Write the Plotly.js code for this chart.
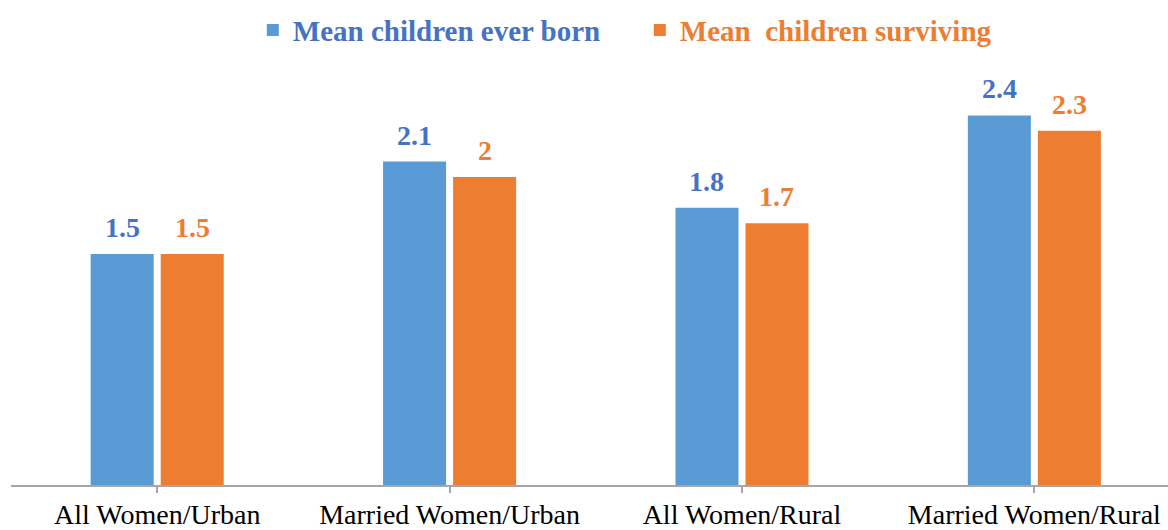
<!DOCTYPE html>
<html>
<head>
<meta charset="utf-8">
<script src="https://cdn.plot.ly/plotly-3.0.1.min.js"></script>
<style>html,body{margin:0;padding:0;background:#fff;}#chart{width:1168px;height:530px;}</style>
</head>
<body>
<div id="chart"></div>
<script>
const categories = ["All Women/Urban", "Married Women/Urban", "All Women/Rural", "Married Women/Rural"];
const everBorn = [1.5, 2.1, 1.8, 2.4];
const surviving = [1.5, 2.0, 1.7, 2.3];
const seriesNames = ["Mean children ever born", "Mean\u00a0 children surviving"];
const barColors = ["#5B9BD5", "#ED7D31"];
const textColors = ["#4472C4", "#ED7D31"];

const serif = "'Liberation Serif', 'Times New Roman', Times, serif";

const traces = [everBorn, surviving].map((vals, i) => ({
  type: "bar",
  x: categories,
  y: vals,
  name: '<b><span style="color:' + textColors[i] + '">' + seriesNames[i] + '</span></b>',
  marker: {color: barColors[i]},
  hoverinfo: "x+y"
}));

const annotations = [];
[everBorn, surviving].forEach((vals, i) => {
  vals.forEach((v, j) => {
    annotations.push({
      x: categories[j], y: v, xref: "x", yref: "y",
      text: "<b>" + v + "</b>",
      showarrow: false,
      xanchor: "center", yanchor: "bottom",
      xshift: i === 0 ? -35 : 35,
      yshift: 9,
      font: {family: serif, size: 28, color: textColors[i]}
    });
  });
});

const layout = {
  width: 1168, height: 530,
  margin: {l: 11, r: 0, t: 23, b: 45, autoexpand: false},
  paper_bgcolor: "#fff", plot_bgcolor: "#fff",
  barmode: "group",
  bargap: 0.521,
  bargroupgap: 0.1,
  showlegend: true,
  legend: {
    orientation: "h",
    x: 0.209, xanchor: "left",
    y: 1.0395, yanchor: "top",
    entrywidth: 342, entrywidthmode: "pixels",
    font: {family: serif, size: 29},
    traceorder: "normal"
  },
  xaxis: {
    type: "category",
    range: [-0.5, 3.457],
    showline: true, linecolor: "#A6A6A6", linewidth: 2,
    ticks: "outside", ticklen: 6, tickcolor: "#A6A6A6", tickwidth: 2,
    ticklabelstandoff: -3,
    tickfont: {family: serif, size: 28, color: "#000"},
    showgrid: false, zeroline: false, fixedrange: true
  },
  yaxis: {
    range: [0, 3.0],
    visible: false, showgrid: false, zeroline: false, fixedrange: true
  },
  annotations: annotations
};

Plotly.newPlot("chart", traces, layout, {displayModeBar: false, staticPlot: true});
</script>
</body>
</html>
